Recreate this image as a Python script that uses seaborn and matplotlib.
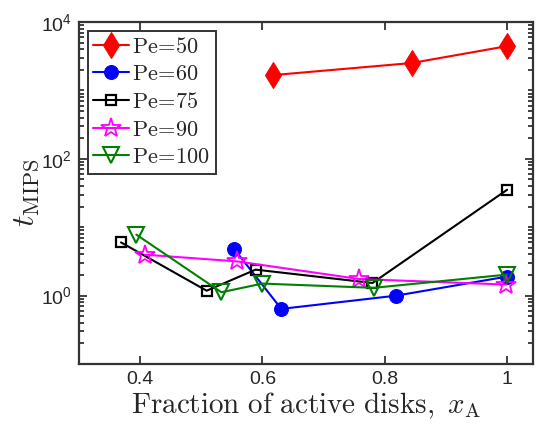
import numpy as np
import pandas as pd
import matplotlib
matplotlib.use("Agg")
import matplotlib.pyplot as plt
from matplotlib.ticker import FixedLocator, LogLocator, LogFormatterSciNotation, NullFormatter
import seaborn as sns

# Fraction of active disks x_A and MIPS time for each Peclet number
x_pe50 = [0.618, 0.844, 1.0]
t_pe50 = [1680, 2520, 4450]

x_pe60 = [0.554, 0.631, 0.819, 1.0]
t_pe60 = [4.8, 0.64, 1.0, 1.9]

x_pe75 = [0.369, 0.509, 0.589, 0.780, 1.0]
t_pe75 = [6.0, 1.18, 2.4, 1.53, 35.3]

x_pe90 = [0.408, 0.558, 0.758, 0.999]
t_pe90 = [3.97, 3.17, 1.75, 1.45]

x_pe100 = [0.394, 0.533, 0.600, 0.782, 1.0]
t_pe100 = [7.8, 1.12, 1.5, 1.3, 2.03]

pe_values = ["50", "60", "75", "90", "100"]
labels = [r"$\mathrm{Pe}\!=\!\mathrm{%s}$" % p for p in pe_values]
xs = [x_pe50, x_pe60, x_pe75, x_pe90, x_pe100]
ts = [t_pe50, t_pe60, t_pe75, t_pe90, t_pe100]

x_ticks = [0.4, 0.6, 0.8, 1.0]
x_tick_labels = ["0.4", "0.6", "0.8", "1"]

sns.set_style("ticks")
plt.rcParams["font.family"] = ["Liberation Sans", "DejaVu Sans"]
plt.rcParams["mathtext.fontset"] = "cm"

styles = [
    dict(color="#ff0000", marker="d", markersize=13, markerfacecolor="#ff0000", markeredgecolor="#ff0000"),
    dict(color="#0000ff", marker="o", markersize=10, markerfacecolor="#0000ff", markeredgecolor="#0000ff"),
    dict(color="#000000", marker="s", markersize=7.5, markerfacecolor="none", markeredgecolor="#000000", markeredgewidth=1.6),
    dict(color="#ff00ff", marker="*", markersize=15, markerfacecolor="none", markeredgecolor="#ff00ff", markeredgewidth=1.3),
    dict(color="#008000", marker="v", markersize=12, markerfacecolor="none", markeredgecolor="#008000", markeredgewidth=1.5),
]

fig = plt.figure(figsize=(5.36, 4.29), dpi=100)
ax = fig.add_axes([0.147, 0.1515, 0.847, 0.797])

for x, t, lab, st in zip(xs, ts, labels, styles):
    df = pd.DataFrame({"x": x, "t": t})
    sns.lineplot(data=df, x="x", y="t", ax=ax, sort=False, label=lab,
                 linewidth=1.5, **st)

ax.set_yscale("log")
ax.set_xlim(0.3, 1.042)
ax.set_ylim(1e-1, 1e4)

ax.xaxis.set_major_locator(FixedLocator(x_ticks))
ax.set_xticklabels(x_tick_labels)
ax.yaxis.set_major_locator(FixedLocator([1e0, 1e2, 1e4]))
ax.yaxis.set_major_formatter(LogFormatterSciNotation())
ax.yaxis.set_minor_locator(LogLocator(base=10, subs=np.arange(1, 10), numticks=20))
ax.yaxis.set_minor_formatter(NullFormatter())

axis_grey = "#333333"
for sp in ax.spines.values():
    sp.set_visible(True)
    sp.set_color(axis_grey)
    sp.set_linewidth(1.6)
ax.tick_params(which="both", direction="in", top=True, right=True,
               color=axis_grey, width=1.3, labelsize=14, labelcolor="#262626")
ax.tick_params(which="major", length=6, pad=5)
ax.tick_params(which="minor", length=3.5)

ax.set_xlabel(r"$\mathrm{Fraction\ of\ active\ disks,}\ x_{\mathrm{A}}$", fontsize=21,
              color="#262626", labelpad=2)
ax.set_ylabel(r"$t_{\mathrm{MIPS}}$", fontsize=23, color="#262626", labelpad=0)

leg = ax.legend(loc="upper left", fontsize=16, frameon=True, fancybox=False,
                borderaxespad=0.4, handlelength=1.6, handletextpad=0.15,
                labelspacing=0.3, borderpad=0.25)
leg.get_frame().set_edgecolor(axis_grey)
leg.get_frame().set_linewidth(1.4)
leg.get_frame().set_alpha(1)

fig.savefig("out.png", dpi=100)
